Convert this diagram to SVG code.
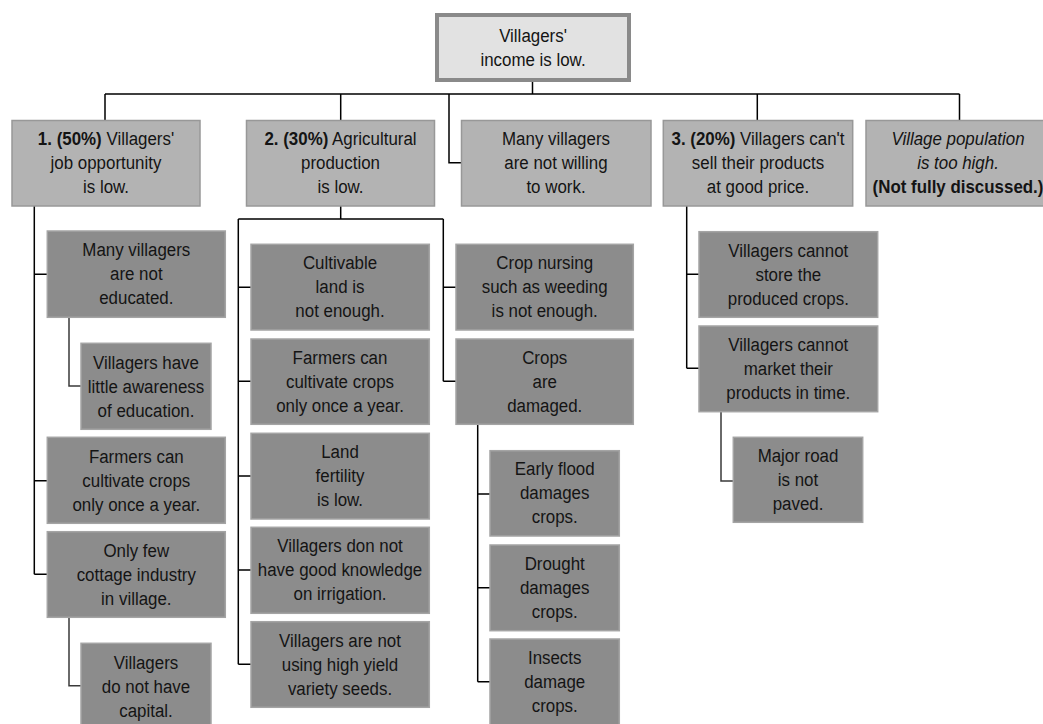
<svg xmlns="http://www.w3.org/2000/svg" width="1043" height="724" viewBox="0 0 1043 724">
  <style>
    text { font-family: "Liberation Sans", Arial, sans-serif; font-size: 19px; fill: #141414; text-anchor: middle; }
    .b { font-weight: bold; }
    .i { font-style: italic; }
    .root { fill: #e2e2e2; stroke: #8a8a8a; stroke-width: 4; }
    .l1 { fill: #b3b3b3; stroke: #989898; stroke-width: 1.5; }
    .l2 { fill: #8c8c8c; stroke: #a4a4a4; stroke-width: 1.5; }
    .wire { fill: none; stroke: #000; stroke-width: 1.5; }
    .wire2 { fill: none; stroke: #3a3a3a; stroke-width: 1.5; }
  </style>
  <rect width="1043" height="724" fill="#fff"/>

  <g id="connectors">
    <!-- root to first level -->
    <path class="wire" d="M532.5 82 V94 M105 94 H959.5 M105 94 V120.5 M340.7 94 V120.5 M757.3 94 V120.5 M959.5 94 V120.5 M449 94 V162.7 H461.5"/>
    <!-- job opportunity branch -->
    <path class="wire" d="M34.3 206 V574.3 M34.3 274.3 H47.3 M34.3 480.7 H47.3 M34.3 574.3 H47.3"/>
    <path class="wire2" d="M69 317.3 V386 H81 M69 617.3 V685.7 H81"/>
    <!-- agricultural production branch -->
    <path class="wire" d="M340.7 206 V219 M238.3 219 H443.3 M238.3 219 V664.3 M238.3 287.3 H251 M238.3 381.3 H251 M238.3 476 H251 M238.3 570 H251 M238.3 664.3 H251 M443.3 219 V381.3 M443.3 287.3 H456 M443.3 381.3 H456"/>
    <path class="wire" d="M477.7 424.3 V681.7 M477.7 494 H490 M477.7 587.7 H490 M477.7 681.7 H490"/>
    <!-- selling branch -->
    <path class="wire" d="M686.7 206 V368.3 M686.7 274.3 H699 M686.7 368.3 H699"/>
    <path class="wire2" d="M721 411.7 V481 H733.3"/>
  </g>

  <!-- labels are set in a horizontally condensed sans: each label block is
       translated to its box centre and squeezed to 89% width -->
  <g id="root">
    <rect class="root" x="437" y="15" width="192" height="65"/>
    <g transform="translate(533 0) scale(0.89 1)">
      <text x="0" y="42">Villagers'</text>
      <text x="0" y="66">income is low.</text>
    </g>
  </g>

  <g id="cause1">
    <rect class="l1" x="12" y="120.5" width="188" height="85.5"/>
    <g transform="translate(106 0) scale(0.89 1)">
      <text x="0" y="145"><tspan class="b">1. (50%)</tspan> Villagers'</text>
      <text x="0" y="169">job opportunity</text>
      <text x="0" y="193">is low.</text>
    </g>
  </g>
  <g id="cause2">
    <rect class="l1" x="246.5" y="120.5" width="188" height="85.5"/>
    <g transform="translate(340.5 0) scale(0.89 1)">
      <text x="0" y="145"><tspan class="b">2. (30%)</tspan> Agricultural</text>
      <text x="0" y="169">production</text>
      <text x="0" y="193">is low.</text>
    </g>
  </g>
  <g id="unwilling">
    <rect class="l1" x="461.5" y="120.5" width="189.5" height="85.5"/>
    <g transform="translate(556 0) scale(0.89 1)">
      <text x="0" y="145">Many villagers</text>
      <text x="0" y="169">are not willing</text>
      <text x="0" y="193">to work.</text>
    </g>
  </g>
  <g id="cause3">
    <rect class="l1" x="663.3" y="120.5" width="189.4" height="85.5"/>
    <g transform="translate(758 0) scale(0.89 1)">
      <text x="0" y="145"><tspan class="b">3. (20%)</tspan> Villagers can't</text>
      <text x="0" y="169">sell their products</text>
      <text x="0" y="193">at good price.</text>
    </g>
  </g>
  <g id="population">
    <rect class="l1" x="866" y="120.5" width="190" height="85.5"/>
    <g transform="translate(958 0) scale(0.89 1)">
      <text x="0" y="145" class="i">Village population</text>
      <text x="0" y="169" class="i">is too high.</text>
      <text x="0" y="193" class="b">(Not fully discussed.)</text>
    </g>
  </g>

  <!-- job opportunity causes -->
  <g id="not-educated">
    <rect class="l2" x="47.3" y="231" width="178" height="86.3"/>
    <g transform="translate(136.3 0) scale(0.89 1)">
      <text x="0" y="256.5">Many villagers</text>
      <text x="0" y="280.5">are not</text>
      <text x="0" y="304.5">educated.</text>
    </g>
  </g>
  <g id="awareness">
    <rect class="l2" x="81" y="343.3" width="130" height="86"/>
    <g transform="translate(146 0) scale(0.89 1)">
      <text x="0" y="369">Villagers have</text>
      <text x="0" y="393">little awareness</text>
      <text x="0" y="417">of education.</text>
    </g>
  </g>
  <g id="once-a-year-1">
    <rect class="l2" x="47.3" y="437.3" width="178" height="86"/>
    <g transform="translate(136.3 0) scale(0.89 1)">
      <text x="0" y="463">Farmers can</text>
      <text x="0" y="487">cultivate crops</text>
      <text x="0" y="511">only once a year.</text>
    </g>
  </g>
  <g id="cottage">
    <rect class="l2" x="47.3" y="531.7" width="178" height="85.6"/>
    <g transform="translate(136.3 0) scale(0.89 1)">
      <text x="0" y="557">Only few</text>
      <text x="0" y="581">cottage industry</text>
      <text x="0" y="605">in village.</text>
    </g>
  </g>
  <g id="capital">
    <rect class="l2" x="81" y="643.3" width="130" height="86"/>
    <g transform="translate(146 0) scale(0.89 1)">
      <text x="0" y="669">Villagers</text>
      <text x="0" y="693">do not have</text>
      <text x="0" y="717">capital.</text>
    </g>
  </g>

  <!-- agricultural production causes -->
  <g id="land">
    <rect class="l2" x="251" y="244.3" width="178.3" height="85.7"/>
    <g transform="translate(340 0) scale(0.89 1)">
      <text x="0" y="269.5">Cultivable</text>
      <text x="0" y="293.5">land is</text>
      <text x="0" y="317.5">not enough.</text>
    </g>
  </g>
  <g id="once-a-year-2">
    <rect class="l2" x="251" y="339" width="178.3" height="85.3"/>
    <g transform="translate(340 0) scale(0.89 1)">
      <text x="0" y="364">Farmers can</text>
      <text x="0" y="388">cultivate crops</text>
      <text x="0" y="412">only once a year.</text>
    </g>
  </g>
  <g id="fertility">
    <rect class="l2" x="251" y="433.3" width="178.3" height="85.7"/>
    <g transform="translate(340 0) scale(0.89 1)">
      <text x="0" y="458.5">Land</text>
      <text x="0" y="482.5">fertility</text>
      <text x="0" y="506.5">is low.</text>
    </g>
  </g>
  <g id="irrigation">
    <rect class="l2" x="251" y="527.3" width="178.3" height="86"/>
    <g transform="translate(340 0) scale(0.89 1)">
      <text x="0" y="552.5">Villagers don not</text>
      <text x="0" y="576.5">have good knowledge</text>
      <text x="0" y="600.5">on irrigation.</text>
    </g>
  </g>
  <g id="seeds">
    <rect class="l2" x="251" y="621.7" width="178.3" height="85.6"/>
    <g transform="translate(340 0) scale(0.89 1)">
      <text x="0" y="647">Villagers are not</text>
      <text x="0" y="671">using high yield</text>
      <text x="0" y="695">variety seeds.</text>
    </g>
  </g>
  <g id="nursing">
    <rect class="l2" x="456" y="244.3" width="177.3" height="85.7"/>
    <g transform="translate(544.7 0) scale(0.89 1)">
      <text x="0" y="269.5">Crop nursing</text>
      <text x="0" y="293.5">such as weeding</text>
      <text x="0" y="317.5">is not enough.</text>
    </g>
  </g>
  <g id="damaged">
    <rect class="l2" x="456" y="339" width="177.3" height="85.3"/>
    <g transform="translate(544.7 0) scale(0.89 1)">
      <text x="0" y="364">Crops</text>
      <text x="0" y="388">are</text>
      <text x="0" y="412">damaged.</text>
    </g>
  </g>
  <g id="flood">
    <rect class="l2" x="490" y="450.7" width="129.3" height="85.3"/>
    <g transform="translate(554.7 0) scale(0.89 1)">
      <text x="0" y="475.5">Early flood</text>
      <text x="0" y="499.5">damages</text>
      <text x="0" y="523.5">crops.</text>
    </g>
  </g>
  <g id="drought">
    <rect class="l2" x="490" y="545" width="129.3" height="85.7"/>
    <g transform="translate(554.7 0) scale(0.89 1)">
      <text x="0" y="570">Drought</text>
      <text x="0" y="594">damages</text>
      <text x="0" y="618">crops.</text>
    </g>
  </g>
  <g id="insects">
    <rect class="l2" x="490" y="639" width="129.3" height="90"/>
    <g transform="translate(554.7 0) scale(0.89 1)">
      <text x="0" y="664">Insects</text>
      <text x="0" y="688">damage</text>
      <text x="0" y="712">crops.</text>
    </g>
  </g>

  <!-- selling causes -->
  <g id="store">
    <rect class="l2" x="699" y="231.7" width="178.7" height="85.6"/>
    <g transform="translate(788.3 0) scale(0.89 1)">
      <text x="0" y="257">Villagers cannot</text>
      <text x="0" y="281">store the</text>
      <text x="0" y="305">produced crops.</text>
    </g>
  </g>
  <g id="market">
    <rect class="l2" x="699" y="326" width="178.7" height="85.7"/>
    <g transform="translate(788.3 0) scale(0.89 1)">
      <text x="0" y="351">Villagers cannot</text>
      <text x="0" y="375">market their</text>
      <text x="0" y="399">products in time.</text>
    </g>
  </g>
  <g id="road">
    <rect class="l2" x="733.3" y="437.3" width="129.4" height="85"/>
    <g transform="translate(798 0) scale(0.89 1)">
      <text x="0" y="462">Major road</text>
      <text x="0" y="486">is not</text>
      <text x="0" y="510">paved.</text>
    </g>
  </g>
</svg>
